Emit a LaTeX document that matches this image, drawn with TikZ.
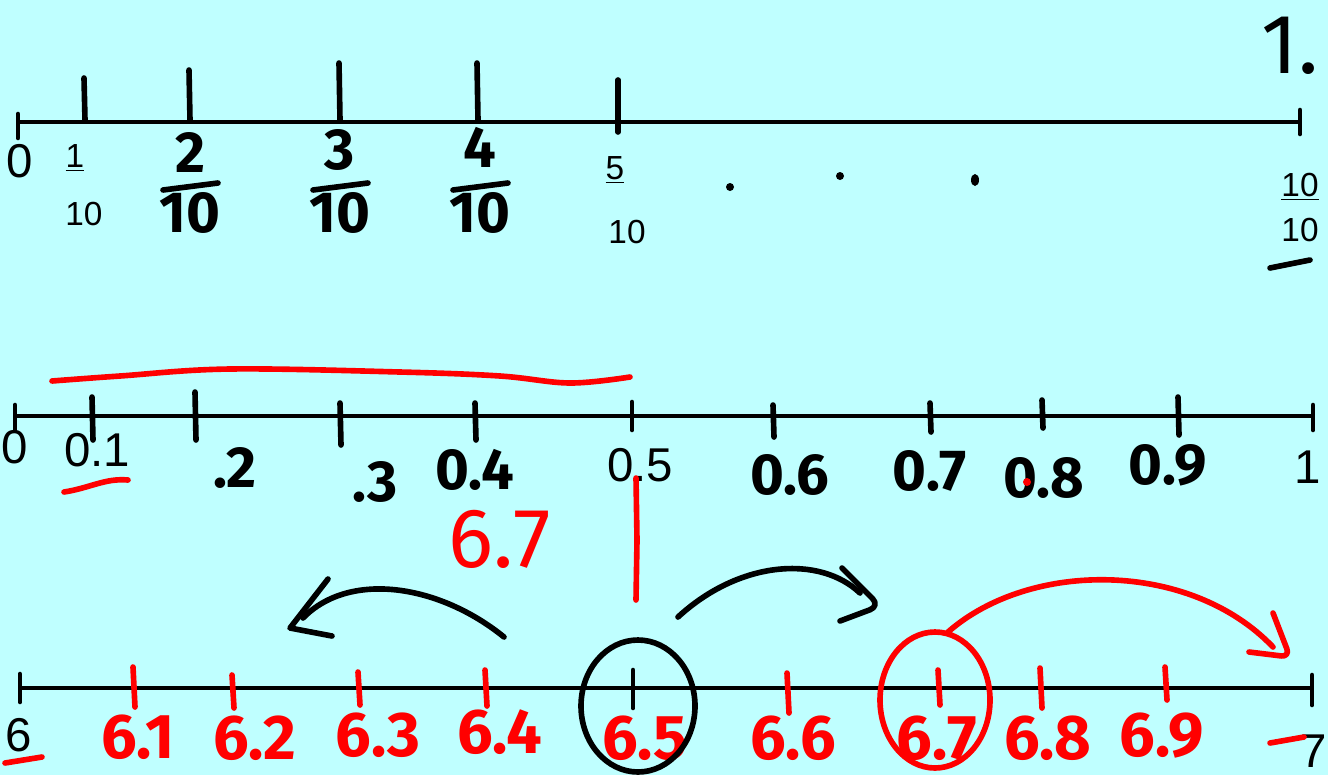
\documentclass[tikz,border=0pt]{standalone}
\usepackage{fontspec}
\setmainfont{Liberation Sans}
\newfontfamily\handfont{Fira Sans}
\usetikzlibrary{positioning,calc}
\definecolor{boardcyan}{RGB}{191,255,255}
\definecolor{penred}{RGB}{255,0,0}

\begin{document}
\begin{tikzpicture}[x=0.02cm, y=-0.02cm,
    axis/.style={line width=2.8pt},
    tick/.style={line width=2.6pt, line cap=round},
    blackpen/.style={line width=3.2pt, line cap=round, line join=round},
    redpen/.style={blackpen, draw=penred},
    typed/.style={inner sep=0pt, font=\fontsize{27}{27}\selectfont},
    small typed/.style={inner sep=0pt, font=\fontsize{19}{19}\selectfont},
    hand/.style={inner sep=0pt, font=\handfont\bfseries\fontsize{33}{33}\selectfont},
    red hand/.style={inner sep=0pt, text=penred, font=\handfont\bfseries\fontsize{36}{36}\selectfont}
]
\useasboundingbox (0,0) rectangle (1328,775);
\fill[boardcyan] (0,0) rectangle (1328,775);

% first line: tenths as fractions
\coordinate (top0) at (18,122);
\coordinate (top1) at (1300,122);
\draw[axis] (top0) -- (top1);
\draw[tick] (18,114) -- (18,138);
\draw[tick] (1300,110) -- (1300,134);
\foreach \x/\y in {85/78,190/70,340/63,478/63}
    \draw[blackpen] (\x-1,\y) -- (\x,120);
\draw[blackpen] (618,80) -- (618,132);

\node[typed] (zero) at (20,161) {0};
\node[small typed] (onenum) at (75,158) {\underline{1}};
\node[small typed] (oneden) at (84,214) {10};
\foreach \x/\d/\y in {190/2/152,340/3/150,480/4/147} {
    \node[hand] (num\d) at (\x,\y) {\d};
    \draw[blackpen] (\x-27,190) -- (\x+28,183);
    \node[hand] (den\d) at (\x,213) {10};
}
\node[small typed] (fivenum) at (615,170) {\underline{5}};
\node[small typed] (fiveden) at (627,232) {10};
\fill (730,187) circle (4);
\fill (840,176) circle (4);
\fill (975,180) ellipse (4 and 6);
\node[small typed] (tennum) at (1300,187) {\underline{10}};
\node[small typed] (tenden) at (1300,230) {10};
\node[hand, font=\handfont\fontsize{48}{48}\selectfont] (onedot) at (1290,46) {1.};
\draw[blackpen] (1270,268) -- (1310,260);

% second line: decimals
\coordinate (mid0) at (15,416);
\coordinate (mid1) at (1313,416);
\draw[axis] (mid0) -- (mid1);
\foreach \x/\a/\b in {15/405/430,632/402/430,1313/405/430}
    \draw[tick] (\x,\a) -- (\x,\b);
\foreach \x/\a/\b in {92/397/440,195/392/440,340/403/445,475/403/440,773/405/437,930/403/432,1042/400/428,1178/397/435}
    \draw[blackpen] (\x,\a) -- (\x+1,\b);
\draw[redpen] plot[smooth, tension=0.6] coordinates {(52,381) (120,376) (230,369) (400,372) (500,376) (570,383) (630,377)};

\node[typed] (dzero) at (15,447) {0};
\node[typed] (done) at (97,450) {0.1};
\draw[redpen] (64,492) .. controls (90,488) and (105,478) .. (128,480);
\node[hand] (dtwo) at (235,468) {.2};
\node[hand] (dthree) at (375,482) {.3};
\node[hand] (dfour) at (475,470) {0.4};
\node[typed] (dfive) at (640,465) {0.5};
\node[hand] (dsix) at (790,475) {0.6};
\node[hand] (dseven) at (930,471) {0.7};
\node[hand] (deight) at (1044,478) {0.8};
\fill[penred] (1027,482) circle (4);
\node[hand] (dnine) at (1168,465) {0.9};
\node[typed] (dten) at (1308,467) {1};

\node[red hand, font=\handfont\fontsize{48}{48}\selectfont] (target) at (500,539) {6.7};
\draw[redpen] (636,478) -- (637,540) -- (636,600);

% third line: 6 to 7
\coordinate (low0) at (20,688);
\coordinate (low1) at (1313,688);
\draw[axis] (low0) -- (low1);
\foreach \x/\a/\b in {20/674/702,633/670/708,1312/675/705}
    \draw[tick] (\x,\a) -- (\x,\b);
\foreach \x/\a/\b in {133/667/707,232/675/708,358/672/705,485/670/706,787/673/713,938/670/705,1040/668/708,1165/667/700}
    \draw[redpen] (\x,\a) -- (\x+2,\b);

\node[typed] (six) at (19,735) {6};
\draw[redpen] (5,763) -- (42,757);
\node[typed] (seven) at (1314,751) {7};
\draw[redpen] (1270,743) -- (1304,737);
\foreach \x/\d/\y in {138/1/737,255/2/738,378/3/735,500/4/732,645/5/738,793/6/738,937/7/738,1048/8/738,1162/9/736}
    \node[red hand] (six\d) at (\x,\y) {6.\d};

\draw[blackpen] (638,706) ellipse (57 and 66);
\draw[redpen] (935,700) ellipse (55 and 68);

\coordinate (left from) at (504,637);
\coordinate (left to) at (303,618);
\coordinate (left tip) at (290,628);
\draw[blackpen] (left from) .. controls (440,585) and (350,570) .. (left to);
\draw[blackpen] (328,579) -- (left tip) -- (332,636);

\coordinate (right from) at (678,617);
\coordinate (right to) at (860,593);
\coordinate (right tip) at (880,606);
\draw[blackpen] (right from) .. controls (740,560) and (820,555) .. (right to);
\draw[blackpen, rounded corners=6] (842,568) -- (right tip) -- (840,621);

\coordinate (red from) at (948,632);
\coordinate (red to) at (1273,647);
\coordinate (red tip) at (1290,657);
\draw[redpen] (red from) .. controls (1030,560) and (1190,560) .. (red to);
\draw[redpen, rounded corners=5] (1273,613) -- (red tip) -- (1249,652);
\end{tikzpicture}
\end{document}
